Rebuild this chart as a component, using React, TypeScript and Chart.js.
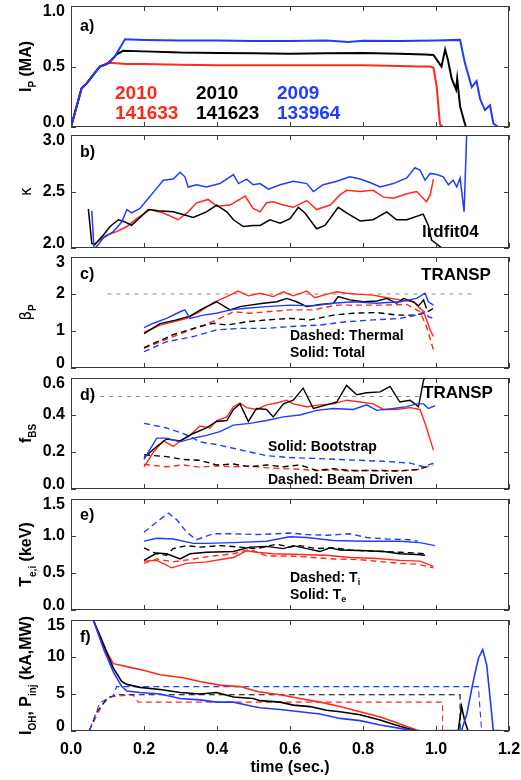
import React, { useEffect, useRef } from 'react';
import { Chart, registerables } from 'chart.js';
Chart.register(...registerables);

const RED = '#ff2a1a';
const BLACK = '#000000';
const BLUE = '#1f3cff';
const GRAY = '#8a8a8a';
const FONT = '"Liberation Sans", Arial, Helvetica, sans-serif';

// shared time axis
const xTickValues = [0, 0.2, 0.4, 0.6, 0.8, 1.0, 1.2];
const xTickLabels = ['0.0', '0.2', '0.4', '0.6', '0.8', '1.0', '1.2'];

// ---- a) plasma current (MA)
const ipTicks = [0, 0.5, 1.0];
const ipTickLabels = ['0.0', '0.5', '1.0'];
const ipRed = [[0, 0], [0.029, 0.32], [0.043, 0.36], [0.061, 0.43], [0.079, 0.5], [0.098, 0.525], [0.107, 0.53], [0.15, 0.52], [0.2, 0.52], [0.3, 0.515], [0.4, 0.51], [0.5, 0.51], [0.6, 0.51], [0.7, 0.51], [0.8, 0.51], [0.9, 0.505], [0.95, 0.5], [0.985, 0.5], [0.993, 0.49], [1.002, 0.33], [1.011, 0.02], [1.02, 0], [1.03, 0]];
const ipBlack = [[0, 0], [0.029, 0.32], [0.043, 0.36], [0.061, 0.43], [0.079, 0.5], [0.098, 0.52], [0.11, 0.55], [0.125, 0.6], [0.143, 0.63], [0.2, 0.625], [0.3, 0.615], [0.4, 0.612], [0.5, 0.61], [0.6, 0.605], [0.7, 0.61], [0.8, 0.612], [0.9, 0.605], [0.97, 0.6], [0.993, 0.595], [1.015, 0.5], [1.025, 0.64], [1.033, 0.55], [1.043, 0.4], [1.055, 0.31], [1.058, 0.4], [1.066, 0.17], [1.077, 0.05], [1.082, 0], [1.12, 0]];
const ipBlue = [[0, 0], [0.029, 0.32], [0.043, 0.36], [0.061, 0.43], [0.079, 0.5], [0.098, 0.52], [0.12, 0.58], [0.135, 0.66], [0.148, 0.725], [0.2, 0.72], [0.3, 0.715], [0.4, 0.715], [0.5, 0.71], [0.6, 0.71], [0.7, 0.715], [0.76, 0.703], [0.8, 0.712], [0.9, 0.71], [1.0, 0.715], [1.066, 0.72], [1.079, 0.53], [1.098, 0.33], [1.111, 0.38], [1.121, 0.23], [1.134, 0.14], [1.148, 0.18], [1.157, 0.03], [1.17, 0], [1.2, 0]];

// ---- b) elongation kappa
const kTicks = [2.0, 2.5, 3.0];
const kTickLabels = ['2.0', '2.5', '3.0'];
const kRed = [[0.064, 2.03], [0.079, 2.07], [0.098, 2.115], [0.125, 2.145], [0.153, 2.19], [0.18, 2.26], [0.216, 2.34], [0.253, 2.31], [0.294, 2.25], [0.321, 2.32], [0.344, 2.4], [0.376, 2.43], [0.399, 2.37], [0.436, 2.38], [0.477, 2.46], [0.499, 2.35], [0.518, 2.32], [0.536, 2.4], [0.554, 2.41], [0.582, 2.38], [0.609, 2.36], [0.646, 2.42], [0.673, 2.34], [0.71, 2.38], [0.737, 2.47], [0.755, 2.51], [0.792, 2.5], [0.828, 2.51], [0.856, 2.45], [0.883, 2.44], [0.92, 2.48], [0.947, 2.5], [0.974, 2.41], [0.984, 2.47], [0.993, 2.61]];
const kBlack = [[0.0475, 2.345], [0.057, 2.04], [0.065, 2.03], [0.089, 2.115], [0.107, 2.19], [0.13, 2.25], [0.148, 2.23], [0.166, 2.2], [0.189, 2.27], [0.212, 2.34], [0.239, 2.33], [0.28, 2.32], [0.335, 2.27], [0.371, 2.32], [0.399, 2.38], [0.427, 2.32], [0.445, 2.25], [0.472, 2.19], [0.499, 2.2], [0.518, 2.2], [0.545, 2.25], [0.573, 2.22], [0.6, 2.26], [0.623, 2.36], [0.641, 2.31], [0.673, 2.17], [0.696, 2.2], [0.732, 2.36], [0.755, 2.31], [0.792, 2.24], [0.828, 2.25], [0.865, 2.32], [0.892, 2.25], [0.92, 2.25], [0.965, 2.3], [0.979, 2.2], [0.988, 2.07], [1.02, 1.99]];
const kBlue = [[0.057, 2.33], [0.063, 1.99], [0.075, 2.03], [0.089, 2.09], [0.116, 2.145], [0.139, 2.23], [0.153, 2.34], [0.166, 2.31], [0.189, 2.35], [0.207, 2.42], [0.23, 2.51], [0.253, 2.6], [0.28, 2.61], [0.299, 2.67], [0.312, 2.63], [0.321, 2.54], [0.344, 2.56], [0.371, 2.54], [0.408, 2.57], [0.445, 2.65], [0.459, 2.57], [0.481, 2.61], [0.499, 2.56], [0.518, 2.57], [0.541, 2.52], [0.573, 2.56], [0.609, 2.59], [0.646, 2.57], [0.664, 2.5], [0.691, 2.56], [0.728, 2.59], [0.764, 2.63], [0.792, 2.61], [0.819, 2.58], [0.847, 2.54], [0.883, 2.57], [0.92, 2.62], [0.942, 2.71], [0.956, 2.69], [0.97, 2.6], [0.984, 2.66], [1.002, 2.65], [1.02, 2.63], [1.034, 2.56], [1.047, 2.6], [1.057, 2.54], [1.066, 2.62], [1.077, 2.32], [1.084, 3.0], [1.087, 3.1]];

// ---- c) poloidal beta (TRANSP)
const bpTicks = [0, 1, 2, 3];
const bpTickLabels = ['0', '1', '2', '3'];
const bpRef = [[0.1, 2], [1.1, 2]];
const bpRedTotal = [[0.2, 0.96], [0.244, 1.16], [0.28, 1.25], [0.317, 1.34], [0.353, 1.52], [0.39, 1.77], [0.427, 1.93], [0.458, 2.08], [0.486, 1.95], [0.518, 2.02], [0.554, 1.93], [0.582, 2.06], [0.609, 1.95], [0.646, 2.08], [0.668, 1.9], [0.7, 1.99], [0.728, 2.06], [0.755, 2.02], [0.792, 1.99], [0.828, 1.97], [0.865, 1.9], [0.901, 1.84], [0.938, 1.79], [0.966, 1.52], [0.984, 1.03], [0.993, 0.85]];
const bpBlackTotal = [[0.2, 0.93], [0.244, 1.2], [0.289, 1.3], [0.326, 1.4], [0.362, 1.61], [0.399, 1.79], [0.436, 1.57], [0.463, 1.66], [0.49, 1.7], [0.527, 1.75], [0.564, 1.79], [0.591, 1.88], [0.618, 1.79], [0.646, 1.66], [0.682, 1.72], [0.719, 1.75], [0.732, 1.93], [0.764, 1.84], [0.801, 1.79], [0.838, 1.81], [0.865, 1.88], [0.892, 1.75], [0.911, 1.88], [0.938, 1.79], [0.952, 1.68], [0.966, 1.84], [0.974, 1.61]];
const bpBlueTotal = [[0.2, 1.09], [0.226, 1.21], [0.262, 1.34], [0.299, 1.52], [0.312, 1.57], [0.326, 1.34], [0.362, 1.43], [0.399, 1.48], [0.436, 1.57], [0.472, 1.61], [0.536, 1.66], [0.599, 1.7], [0.664, 1.68], [0.719, 1.75], [0.773, 1.79], [0.838, 1.75], [0.901, 1.79], [0.947, 1.88], [0.97, 2.02], [0.979, 1.79], [0.993, 1.7]];
const bpRedTherm = [[0.2, 0.53], [0.28, 0.85], [0.353, 1.12], [0.399, 1.3], [0.445, 1.52], [0.49, 1.48], [0.536, 1.52], [0.599, 1.57], [0.664, 1.57], [0.728, 1.7], [0.792, 1.7], [0.856, 1.7], [0.92, 1.72], [0.956, 1.52], [0.974, 1.12], [0.993, 0.49]];
const bpBlackTherm = [[0.2, 0.55], [0.28, 0.9], [0.353, 1.12], [0.39, 1.21], [0.427, 1.16], [0.481, 1.25], [0.536, 1.3], [0.599, 1.34], [0.655, 1.3], [0.719, 1.43], [0.773, 1.48], [0.838, 1.5], [0.892, 1.43], [0.938, 1.43], [0.97, 1.48], [0.993, 1.61]];
const bpBlueTherm = [[0.2, 0.44], [0.262, 0.71], [0.335, 0.85], [0.399, 1.03], [0.463, 1.07], [0.536, 1.07], [0.599, 1.12], [0.682, 1.16], [0.755, 1.25], [0.828, 1.3], [0.901, 1.34], [0.947, 1.43], [0.97, 1.52], [0.979, 1.39], [0.993, 1.34]];

// ---- d) bootstrap / beam-driven fractions (TRANSP)
const fTicks = [0, 0.2, 0.4, 0.6];
const fTickLabels = ['0.0', '0.2', '0.4', '0.6'];
const fRef = [[0.055, 0.5], [0.96, 0.5]];
const fbsRed = [[0.2, 0.12], [0.226, 0.2], [0.253, 0.26], [0.28, 0.23], [0.303, 0.265], [0.326, 0.29], [0.353, 0.34], [0.381, 0.33], [0.399, 0.37], [0.427, 0.39], [0.445, 0.445], [0.463, 0.465], [0.481, 0.44], [0.508, 0.43], [0.536, 0.455], [0.564, 0.465], [0.591, 0.48], [0.609, 0.46], [0.646, 0.445], [0.682, 0.455], [0.719, 0.46], [0.755, 0.48], [0.792, 0.47], [0.828, 0.46], [0.856, 0.43], [0.892, 0.43], [0.929, 0.44], [0.956, 0.43], [0.97, 0.355], [0.993, 0.21]];
const fbsBlack = [[0.2, 0.17], [0.235, 0.23], [0.262, 0.27], [0.299, 0.26], [0.335, 0.3], [0.371, 0.33], [0.399, 0.365], [0.427, 0.37], [0.445, 0.43], [0.463, 0.46], [0.486, 0.365], [0.508, 0.435], [0.536, 0.43], [0.554, 0.39], [0.582, 0.46], [0.609, 0.48], [0.636, 0.545], [0.664, 0.435], [0.7, 0.455], [0.728, 0.47], [0.755, 0.56], [0.783, 0.51], [0.81, 0.52], [0.847, 0.525], [0.874, 0.555], [0.901, 0.47], [0.929, 0.48], [0.952, 0.445], [0.966, 0.59], [0.97, 0.6]];
const fbsBlue = [[0.2, 0.16], [0.235, 0.275], [0.262, 0.275], [0.299, 0.255], [0.335, 0.275], [0.371, 0.29], [0.408, 0.31], [0.445, 0.345], [0.49, 0.355], [0.536, 0.37], [0.582, 0.39], [0.627, 0.4], [0.673, 0.425], [0.719, 0.435], [0.773, 0.43], [0.81, 0.455], [0.838, 0.425], [0.883, 0.435], [0.92, 0.445], [0.947, 0.46], [0.966, 0.46], [0.979, 0.435], [0.997, 0.45]];
const fnbRed = [[0.2, 0.133], [0.262, 0.12], [0.307, 0.13], [0.353, 0.118], [0.399, 0.125], [0.445, 0.12], [0.49, 0.125], [0.536, 0.115], [0.582, 0.11], [0.627, 0.107], [0.673, 0.1], [0.719, 0.104], [0.764, 0.097], [0.81, 0.1], [0.856, 0.097], [0.901, 0.1], [0.947, 0.104], [0.993, 0.13]];
const fnbBlack = [[0.2, 0.185], [0.262, 0.175], [0.307, 0.16], [0.353, 0.155], [0.399, 0.13], [0.445, 0.135], [0.49, 0.12], [0.536, 0.13], [0.582, 0.12], [0.627, 0.13], [0.673, 0.1], [0.719, 0.11], [0.764, 0.1], [0.81, 0.1], [0.856, 0.1], [0.901, 0.097], [0.947, 0.105], [0.974, 0.12]];
const fnbBlue = [[0.2, 0.355], [0.262, 0.33], [0.307, 0.3], [0.33, 0.28], [0.353, 0.255], [0.399, 0.24], [0.445, 0.22], [0.49, 0.2], [0.536, 0.18], [0.599, 0.17], [0.673, 0.165], [0.764, 0.157], [0.856, 0.15], [0.929, 0.14], [0.966, 0.12], [0.993, 0.14]];

// ---- e) electron / ion temperature (keV)
const tTicks = [0, 0.5, 1.0, 1.5];
const tTickLabels = ['0.0', '0.5', '1.0', '1.5'];
const tiBlue = [[0.2, 1.05], [0.235, 1.19], [0.267, 1.31], [0.29, 1.22], [0.317, 1.05], [0.344, 0.95], [0.39, 1.03], [0.445, 1.03], [0.508, 1.02], [0.564, 1.03], [0.599, 1.04], [0.646, 1.02], [0.7, 1.01], [0.764, 1.03], [0.81, 0.98], [0.865, 0.96], [0.929, 0.95], [0.95, 0.93]];
const teBlue = [[0.2, 0.93], [0.235, 0.97], [0.28, 0.96], [0.335, 0.9], [0.371, 0.9], [0.445, 0.91], [0.536, 0.93], [0.599, 0.99], [0.646, 0.98], [0.719, 0.94], [0.81, 0.93], [0.901, 0.93], [0.956, 0.91], [0.997, 0.87]];
const tiBlack = [[0.2, 0.84], [0.235, 0.76], [0.262, 0.74], [0.28, 0.83], [0.317, 0.87], [0.353, 0.85], [0.408, 0.87], [0.463, 0.85], [0.508, 0.83], [0.564, 0.89], [0.599, 0.85], [0.627, 0.87], [0.673, 0.83], [0.719, 0.84], [0.764, 0.81], [0.81, 0.8], [0.856, 0.79], [0.901, 0.78], [0.947, 0.77], [0.97, 0.76]];
const teBlack = [[0.2, 0.67], [0.235, 0.77], [0.262, 0.76], [0.299, 0.69], [0.326, 0.76], [0.371, 0.78], [0.445, 0.79], [0.49, 0.85], [0.536, 0.86], [0.582, 0.83], [0.609, 0.87], [0.646, 0.83], [0.682, 0.79], [0.71, 0.84], [0.737, 0.81], [0.81, 0.8], [0.856, 0.79], [0.901, 0.76], [0.947, 0.75], [0.97, 0.74]];
const tiRed = [[0.2, 0.63], [0.235, 0.69], [0.28, 0.65], [0.335, 0.69], [0.39, 0.73], [0.445, 0.76], [0.49, 0.82], [0.536, 0.73], [0.599, 0.73], [0.664, 0.71], [0.719, 0.69], [0.792, 0.68], [0.856, 0.65], [0.901, 0.63], [0.947, 0.62], [0.993, 0.57]];
const teRed = [[0.2, 0.66], [0.235, 0.67], [0.276, 0.57], [0.317, 0.63], [0.371, 0.65], [0.445, 0.71], [0.481, 0.8], [0.508, 0.78], [0.554, 0.76], [0.627, 0.75], [0.7, 0.74], [0.764, 0.71], [0.828, 0.7], [0.901, 0.67], [0.956, 0.66], [0.993, 0.59]];

// ---- f) OH current (kA) and injected power (MW)
const ohTicks = [0, 5, 10, 15];
const ohTickLabels = ['0', '5', '10', '15'];
const ohRed = [[0.04, 19], [0.061, 15], [0.079, 13.0], [0.098, 10.7], [0.116, 9.1], [0.153, 8.7], [0.198, 8.2], [0.244, 7.6], [0.307, 7.2], [0.353, 6.7], [0.408, 6.2], [0.463, 6.0], [0.513, 5.3], [0.573, 4.9], [0.627, 4.4], [0.682, 3.9], [0.737, 3.3], [0.792, 2.6], [0.847, 1.9], [0.883, 1.3], [0.92, 0.6], [0.947, 0.14], [0.96, 0], [1.1, 0]];
const ohBlack = [[0.04, 19], [0.061, 15], [0.09, 11.5], [0.116, 8.5], [0.139, 6.7], [0.153, 6.3], [0.189, 5.9], [0.244, 5.6], [0.299, 5.2], [0.353, 5.0], [0.399, 5.2], [0.445, 4.6], [0.499, 4.4], [0.518, 4.1], [0.545, 4.0], [0.573, 3.9], [0.609, 3.5], [0.655, 3.3], [0.7, 2.8], [0.737, 2.6], [0.792, 2.2], [0.847, 1.5], [0.883, 0.9], [0.92, 0.36], [0.947, 0], [1.061, 0], [1.07, 3.3], [1.079, 1.3], [1.088, 0], [1.12, 0]];
const ohBlue = [[0.04, 19], [0.061, 15], [0.09, 11], [0.116, 8.0], [0.139, 6.0], [0.153, 5.4], [0.189, 5.2], [0.244, 5.0], [0.299, 4.4], [0.353, 4.2], [0.399, 3.9], [0.445, 3.9], [0.499, 3.3], [0.518, 3.15], [0.573, 2.9], [0.627, 2.6], [0.682, 2.3], [0.737, 1.7], [0.792, 1.4], [0.847, 0.8], [0.901, 0.36], [0.947, 0], [1.07, 0.1], [1.084, 2.2], [1.102, 6.7], [1.116, 9.8], [1.128, 11.0], [1.139, 8.9], [1.152, 2.6], [1.157, 0.1], [1.2, 0]];
const pinjRed = [[0.05, 0], [0.065, 1.5], [0.085, 3.5], [0.107, 4.6], [0.17, 4.9], [0.184, 3.9], [0.6, 3.9], [1.018, 3.9], [1.018, 0], [1.06, 0]];
const pinjBlack = [[0.05, 0], [0.07, 2.5], [0.1, 4.5], [0.125, 4.9], [0.5, 4.9], [1.066, 4.9], [1.066, 0]];
const pinjBlue = [[0, 0], [0.05, 0], [0.061, 1.5], [0.079, 3.8], [0.098, 4.3], [0.115, 4.7], [0.125, 6.0], [0.5, 6.0], [1.116, 6.0], [1.125, 0], [1.2, 0]];

type Part = { t: string; sub?: boolean; normal?: boolean; fam?: string };
type Txt = { parts: Part[]; x: number; y: number; size: number; color?: string };
type Series = { data: number[][]; color: string; dash?: number[]; width?: number };
type Panel = {
  top: number; bottom: number; ymin: number; ymax: number;
  ticks: number[]; tickLabels: string[];
  title: Part[]; titleSize: number;
  series: Series[]; texts: Txt[]; xlabels?: boolean;
};

const DASH = [6, 4];
const REFDASH = [4, 5];

const panels: Panel[] = [
  {
    top: 6, bottom: 127, ymin: 0, ymax: 1.0, ticks: ipTicks, tickLabels: ipTickLabels,
    title: [{ t: 'I' }, { t: 'P', sub: true }, { t: ' (MA)' }], titleSize: 16,
    series: [
      { data: ipRed, color: RED, width: 2 },
      { data: ipBlack, color: BLACK, width: 2 },
      { data: ipBlue, color: BLUE, width: 2 },
    ],
    texts: [
      { parts: [{ t: 'a)' }], x: 80, y: 27, size: 16 },
      { parts: [{ t: '2010' }], x: 115, y: 94, size: 19, color: RED },
      { parts: [{ t: '141633' }], x: 115, y: 114, size: 19, color: RED },
      { parts: [{ t: '2010' }], x: 196, y: 94, size: 19, color: BLACK },
      { parts: [{ t: '141623' }], x: 196, y: 114, size: 19, color: BLACK },
      { parts: [{ t: '2009' }], x: 277, y: 94, size: 19, color: BLUE },
      { parts: [{ t: '133964' }], x: 277, y: 114, size: 19, color: BLUE },
    ],
  },
  {
    top: 135, bottom: 248, ymin: 2.0, ymax: 3.0, ticks: kTicks, tickLabels: kTickLabels,
    title: [{ t: 'κ', normal: true, fam: '"DejaVu Sans", sans-serif' }], titleSize: 15,
    series: [
      { data: kRed, color: RED, width: 1.5 },
      { data: kBlack, color: BLACK, width: 1.5 },
      { data: kBlue, color: BLUE, width: 1.5 },
    ],
    texts: [
      { parts: [{ t: 'b)' }], x: 80, y: 153, size: 16 },
      { parts: [{ t: 'lrdfit04' }], x: 422, y: 232, size: 17 },
    ],
  },
  {
    top: 257, bottom: 368, ymin: 0, ymax: 3, ticks: bpTicks, tickLabels: bpTickLabels,
    title: [{ t: 'β', normal: true, fam: '"DejaVu Sans", sans-serif' }, { t: 'P', sub: true }], titleSize: 15,
    series: [
      { data: bpRef, color: GRAY, dash: REFDASH, width: 1 },
      { data: bpRedTherm, color: RED, dash: DASH, width: 1.4 },
      { data: bpBlackTherm, color: BLACK, dash: DASH, width: 1.4 },
      { data: bpBlueTherm, color: BLUE, dash: DASH, width: 1.4 },
      { data: bpRedTotal, color: RED, width: 1.4 },
      { data: bpBlackTotal, color: BLACK, width: 1.4 },
      { data: bpBlueTotal, color: BLUE, width: 1.4 },
    ],
    texts: [
      { parts: [{ t: 'c)' }], x: 80, y: 275, size: 16 },
      { parts: [{ t: 'TRANSP' }], x: 421, y: 275, size: 17 },
      { parts: [{ t: 'Dashed: Thermal' }], x: 290, y: 336, size: 14 },
      { parts: [{ t: 'Solid: Total' }], x: 290, y: 353, size: 14 },
    ],
  },
  {
    top: 378, bottom: 489, ymin: 0, ymax: 0.6, ticks: fTicks, tickLabels: fTickLabels,
    title: [{ t: 'f' }, { t: 'BS', sub: true }], titleSize: 16,
    series: [
      { data: fRef, color: GRAY, dash: REFDASH, width: 1 },
      { data: fnbRed, color: RED, dash: DASH, width: 1.4 },
      { data: fnbBlack, color: BLACK, dash: DASH, width: 1.4 },
      { data: fnbBlue, color: BLUE, dash: DASH, width: 1.4 },
      { data: fbsRed, color: RED, width: 1.4 },
      { data: fbsBlack, color: BLACK, width: 1.4 },
      { data: fbsBlue, color: BLUE, width: 1.4 },
    ],
    texts: [
      { parts: [{ t: 'd)' }], x: 80, y: 396, size: 16 },
      { parts: [{ t: 'TRANSP' }], x: 423, y: 393, size: 17 },
      { parts: [{ t: 'Solid: Bootstrap' }], x: 268, y: 447, size: 14 },
      { parts: [{ t: 'Dashed: Beam Driven' }], x: 268, y: 480, size: 14 },
    ],
  },
  {
    top: 499, bottom: 610, ymin: 0, ymax: 1.5, ticks: tTicks, tickLabels: tTickLabels,
    title: [{ t: 'T' }, { t: 'e,i', sub: true }, { t: ' (keV)' }], titleSize: 16,
    series: [
      { data: tiRed, color: RED, dash: DASH, width: 1.4 },
      { data: tiBlack, color: BLACK, dash: DASH, width: 1.4 },
      { data: tiBlue, color: BLUE, dash: DASH, width: 1.4 },
      { data: teRed, color: RED, width: 1.4 },
      { data: teBlack, color: BLACK, width: 1.4 },
      { data: teBlue, color: BLUE, width: 1.4 },
    ],
    texts: [
      { parts: [{ t: 'e)' }], x: 80, y: 516, size: 16 },
      { parts: [{ t: 'Dashed: T' }, { t: 'i', sub: true }], x: 290, y: 578, size: 14 },
      { parts: [{ t: 'Solid: T' }, { t: 'e', sub: true }], x: 290, y: 595, size: 14 },
    ],
  },
  {
    top: 620, bottom: 731, ymin: 0, ymax: 15, ticks: ohTicks, tickLabels: ohTickLabels,
    title: [{ t: 'I' }, { t: 'OH', sub: true }, { t: ', P' }, { t: 'inj', sub: true }, { t: ' (kA,MW)' }], titleSize: 16,
    series: [
      { data: pinjRed, color: RED, dash: DASH, width: 1.1 },
      { data: pinjBlack, color: BLACK, dash: DASH, width: 1.1 },
      { data: pinjBlue, color: BLUE, dash: DASH, width: 1.1 },
      { data: ohRed, color: RED, width: 1.6 },
      { data: ohBlack, color: BLACK, width: 1.6 },
      { data: ohBlue, color: BLUE, width: 1.6 },
    ],
    texts: [
      { parts: [{ t: 'f)' }], x: 80, y: 638, size: 16 },
    ],
    xlabels: true,
  },
];

function partFont(p: Part, size: number) {
  const s = p.sub ? Math.round(size * 0.65) : size;
  return `${p.normal ? 'normal' : 'bold'} ${s}px ${p.fam || FONT}`;
}

function drawParts(ctx: CanvasRenderingContext2D, parts: Part[], size: number, x0: number, baseline: string) {
  let x = x0;
  for (const p of parts) {
    ctx.font = partFont(p, size);
    ctx.textBaseline = baseline as CanvasTextBaseline;
    ctx.fillText(p.t, x, p.sub ? size * 0.3 : 0);
    x += ctx.measureText(p.t).width;
  }
}

function widthOf(ctx: CanvasRenderingContext2D, parts: Part[], size: number) {
  let w = 0;
  for (const p of parts) {
    ctx.font = partFont(p, size);
    w += ctx.measureText(p.t).width;
  }
  return w;
}

function makeFrame(p: Panel, idx: number) {
  return {
    id: 'frame' + idx,
    afterDatasetsDraw(chart: any) {
      const ctx: CanvasRenderingContext2D = chart.ctx;
      const { left, right, top, bottom } = chart.chartArea;
      const xs = chart.scales.x;
      const ys = chart.scales.y;
      ctx.save();
      ctx.strokeStyle = '#3a3a3a';
      ctx.lineWidth = 1;
      ctx.setLineDash([]);
      ctx.strokeRect(left + 0.5, top + 0.5, right - left - 1, bottom - top - 1);
      ctx.beginPath();
      for (const v of xTickValues) {
        const px = Math.round(xs.getPixelForValue(v)) + 0.5;
        ctx.moveTo(px, bottom); ctx.lineTo(px, bottom - 5);
        ctx.moveTo(px, top); ctx.lineTo(px, top + 5);
      }
      for (const v of p.ticks) {
        const py = Math.round(ys.getPixelForValue(v)) + 0.5;
        ctx.moveTo(left, py); ctx.lineTo(left + 5, py);
        ctx.moveTo(right, py); ctx.lineTo(right - 5, py);
      }
      ctx.stroke();

      // y tick labels
      ctx.fillStyle = '#000';
      ctx.font = `bold 16px ${FONT}`;
      ctx.textAlign = 'right';
      ctx.textBaseline = 'middle';
      p.ticks.forEach((v, i) => {
        let py = ys.getPixelForValue(v);
        py = Math.max(py, top + 6);
        py = Math.min(py, bottom - 4);
        ctx.fillText(p.tickLabels[i], left - 6, py);
      });

      // x tick labels
      if (p.xlabels) {
        ctx.textAlign = 'center';
        xTickValues.forEach((v, i) => {
          ctx.fillText(xTickLabels[i], xs.getPixelForValue(v), bottom + 19);
        });
        ctx.fillText('time (sec.)', (left + right) / 2, bottom + 37);
      }

      // y title (rotated)
      ctx.textAlign = 'left';
      const tw = widthOf(ctx, p.title, p.titleSize);
      ctx.save();
      ctx.translate(31, (top + bottom) / 2);
      ctx.rotate(-Math.PI / 2);
      drawParts(ctx, p.title, p.titleSize, -tw / 2, 'alphabetic');
      ctx.restore();

      // annotations
      for (const t of p.texts) {
        ctx.fillStyle = t.color || '#000';
        ctx.save();
        ctx.translate(t.x, t.y);
        drawParts(ctx, t.parts, t.size, 0, 'middle');
        ctx.restore();
      }
      ctx.restore();
    },
  };
}

function PanelChart({ p, idx }: { p: Panel; idx: number }) {
  const ref = useRef<HTMLCanvasElement>(null);
  useEffect(() => {
    if (!ref.current) return;
    const ds = p.series.map((s) => ({
      data: s.data.map(([x, y]) => ({ x, y })),
      borderColor: s.color,
      borderWidth: s.width ?? 1.5,
      borderDash: s.dash ?? [],
      pointRadius: 0,
      fill: false,
      tension: 0,
    })).reverse();
    const chart = new Chart(ref.current, {
      type: 'line',
      data: { datasets: ds as any },
      options: {
        animation: false,
        responsive: false,
        events: [],
        layout: { padding: { left: 71, right: 12, top: p.top, bottom: 780 - p.bottom } },
        scales: {
          x: { type: 'linear', min: 0, max: 1.2, display: false },
          y: { type: 'linear', min: p.ymin, max: p.ymax, display: false },
        },
        plugins: { legend: { display: false }, tooltip: { enabled: false } },
      },
      plugins: [makeFrame(p, idx)],
    });
    return () => chart.destroy();
  }, [p, idx]);
  return (
    <canvas
      ref={ref}
      width={521}
      height={780}
      style={{ position: 'absolute', left: 0, top: 0, width: 521, height: 780 }}
    />
  );
}

export default function App() {
  return (
    <div style={{ position: 'absolute', left: 0, top: 0, width: 521, height: 780, background: '#fff', overflow: 'hidden' }}>
      {panels.map((p, i) => (
        <PanelChart key={i} p={p} idx={i} />
      ))}
    </div>
  );
}
